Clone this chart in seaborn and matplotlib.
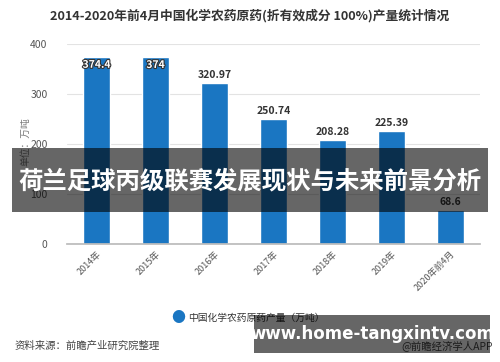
import matplotlib
matplotlib.use("Agg")
import matplotlib.pyplot as plt
import matplotlib.patheffects as pe
from matplotlib.patches import Rectangle
import seaborn as sns
import pandas as pd

categories = ["2014年", "2015年", "2016年", "2017年", "2018年", "2019年", "2020年前4月"]
values = [374.4, 374, 320.97, 250.74, 208.28, 225.39, 68.6]
value_labels = ["374.4", "374", "320.97", "250.74", "208.28", "225.39", "68.6"]
yticks = [0, 100, 200, 300, 400]

title = "2014-2020年前4月中国化学农药原药(折有效成分 100%)产量统计情况"
legend_label = "中国化学农药原药产量（万吨）"
ylabel = "单位：万吨"
source = "资料来源：前瞻产业研究院整理"
credit = "@前瞻经济学人APP"
banner = "荷兰足球丙级联赛发展现状与未来前景分析"
url = "www.home-tangxintv.com"

sns.set_theme(style="white")
plt.rcParams['font.family'] = ['Noto Sans CJK SC', 'DejaVu Sans']
plt.rcParams['axes.unicode_minus'] = False

df = pd.DataFrame({"cat": categories, "val": values})
blue = "#1a76c2"

fig = plt.figure(figsize=(5, 3.62), dpi=100)
ax = fig.add_axes([0.134, 0.326, 0.826, 0.5525])
sns.barplot(data=df, x="cat", y="val", color=blue, width=0.47, saturation=1, ax=ax)
ax.set_ylim(0, 400)
ax.set_yticks(yticks)
ax.set_yticklabels([str(t) for t in yticks], color="#555555", fontsize=7.5)
ax.tick_params(axis='y', length=0, pad=14)
ax.tick_params(axis='x', length=3, color="#bbbbbb", pad=1)
ax.set_xticks(range(len(categories)))
ax.set_xticklabels(categories, rotation=45, ha="right", rotation_mode="anchor",
                   fontsize=6.5, color="#555555")
ax.grid(axis='y', color="#e3e3e3", linewidth=0.8)
ax.set_axisbelow(True)
for s in ["top", "right", "left"]:
    ax.spines[s].set_visible(False)
ax.spines["bottom"].set_color("#bbbbbb")
ax.set_xlabel("")
ax.set_ylabel("")

for i, (v, lab) in enumerate(zip(values, value_labels)):
    if v > 360:
        ax.text(i, v - 6, lab, ha="center", va="top", fontsize=7.5, fontweight="bold",
                color="white", path_effects=[pe.withStroke(linewidth=1.6, foreground="#333333")])
    else:
        ax.text(i, v + 6, lab, ha="center", va="bottom", fontsize=7.5, fontweight="bold",
                color="#333333")

fig.text(0.5, 0.957, title, ha="center", va="center", fontsize=9.2, fontweight="bold", color="#333333")
fig.text(0.05, 0.61, ylabel, ha="center", va="center", rotation=90, fontsize=7, color="#777777")

# legend
fig.text(0.356, 0.121, "●", ha="center", va="center", fontsize=10, color=blue)
fig.text(0.376, 0.121, legend_label, ha="left", va="center", fontsize=7, color="#333333")

fig.text(0.03, 0.046, source, ha="left", va="center", fontsize=7.5, color="#444444")
fig.text(0.985, 0.046, credit, ha="right", va="center", fontsize=7.5, color="#444444")

# overlay banners
fig.patches.append(Rectangle((0.024, 1 - 212/362), 0.952, 64/362, transform=fig.transFigure,
                             facecolor="black", alpha=0.6, edgecolor="none", zorder=10))
fig.text(0.5, 1 - 181/362, banner, ha="center", va="center", fontsize=17.6, fontweight="bold",
         color="white", zorder=11)
fig.patches.append(Rectangle((254/500, 1 - 353/362), 236/500, 38/362, transform=fig.transFigure,
                             facecolor="black", alpha=0.6, edgecolor="none", zorder=10))
fig.text(372/500, 1 - 334/362, url, ha="center", va="center", fontsize=12, fontweight="bold",
         color="white", zorder=11, family=["DejaVu Sans"])

fig.savefig("out.png", dpi=100)
